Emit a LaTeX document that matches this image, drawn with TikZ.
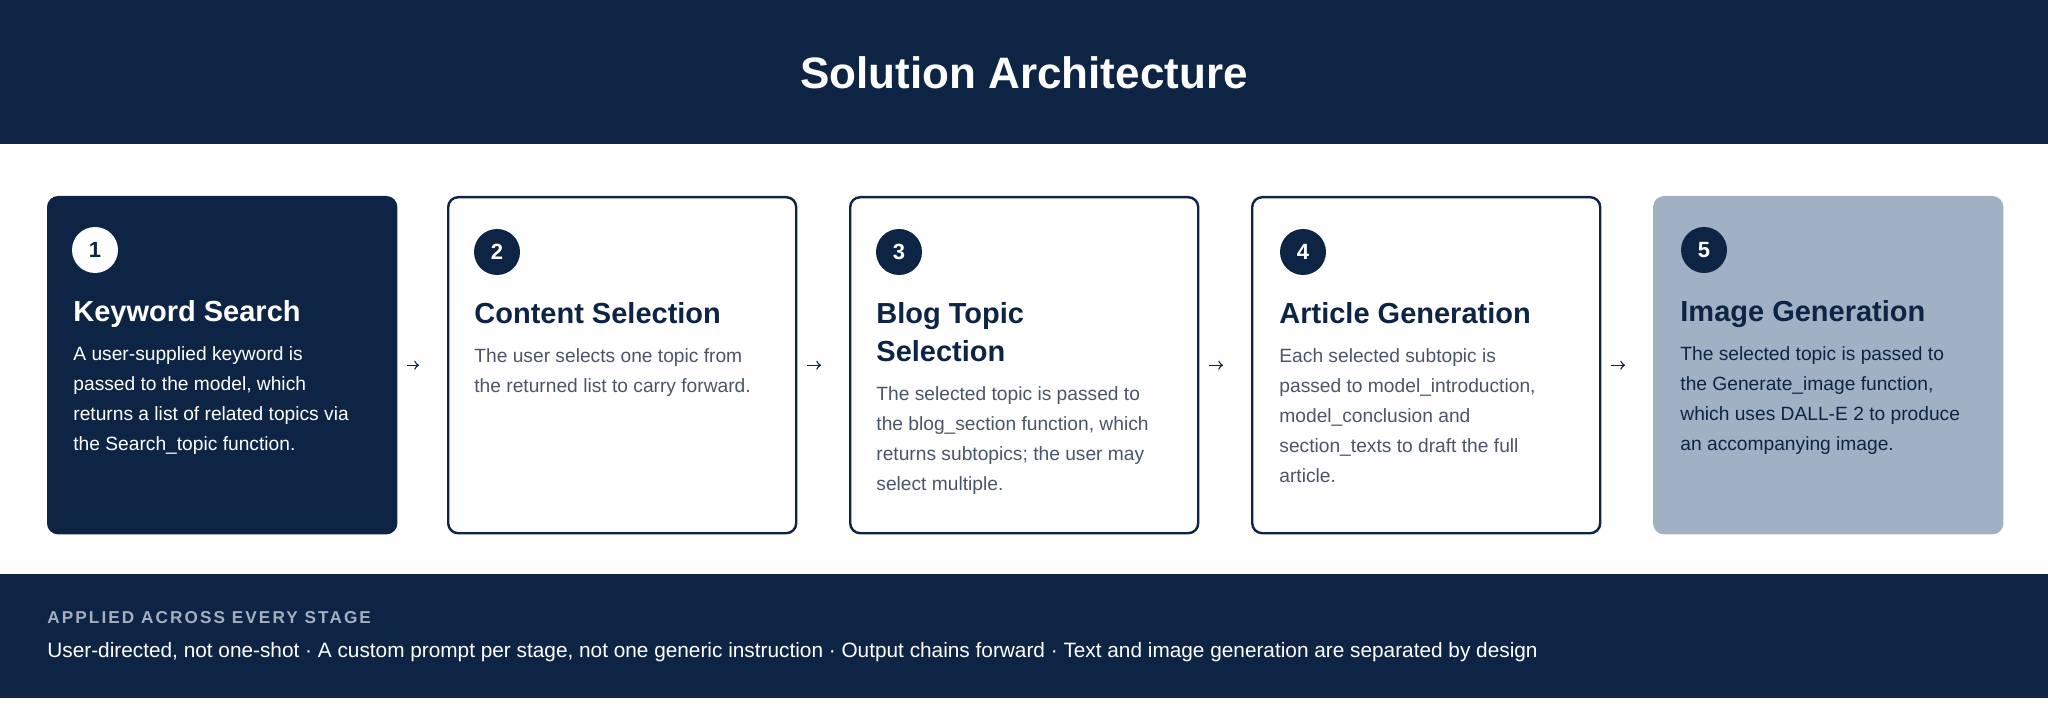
\documentclass[tikz,border=0pt]{standalone}
\usepackage{fontspec}
\setmainfont{Liberation Sans}
\usetikzlibrary{positioning}
\definecolor{navy}{HTML}{0E2445}
\definecolor{slate}{HTML}{9FB1C3}
\definecolor{bodygray}{HTML}{4A5568}
\definecolor{capgray}{HTML}{A3AFBF}
\begin{document}
\begin{tikzpicture}[x=0.5pt,y=-0.5pt,
    stage/.style={draw=navy,line width=1.2pt,rounded corners=5pt,fill=white,
      minimum width=174pt,minimum height=168pt,anchor=north west,inner sep=0pt},
    badge/.style={circle,fill=navy,text=white,minimum size=23pt,inner sep=0pt,
      font=\bfseries\fontsize{11}{11}\selectfont},
    title/.style={anchor=north west,inner sep=0pt,align=left,text=navy,
      font=\bfseries\fontsize{14.5}{19}\selectfont},
    body/.style={anchor=north west,inner sep=0pt,align=left,text=bodygray,
      font=\fontsize{9.6}{15}\selectfont},
    flow/.style={->,navy,line width=0.7pt,shorten >=14pt,shorten <=5pt}]

  % Frame and bands
  \useasboundingbox (0,0) rectangle (2048,716);
  \fill[navy] (0,0) rectangle (2048,144);
  \fill[navy] (0,574) rectangle (2048,698);
  \node[text=white,font=\bfseries\fontsize{22}{22}\selectfont] (head) at (1024,73) {Solution Architecture};

  % Stages
  \node[stage,fill=navy,draw=navy] (s1) at (47,196) {};
  \node[stage] (s2) at (447,196) {};
  \node[stage] (s3) at (849,196) {};
  \node[stage] (s4) at (1251,196) {};
  \node[stage,fill=slate,draw=slate] (s5) at (1653,196) {};

  \node[badge,fill=white,text=navy] (n1) at (95,250) {1};
  \node[badge] (n2) at (497,252) {2};
  \node[badge] (n3) at (899,252) {3};
  \node[badge] (n4) at (1303,252) {4};
  \node[badge] (n5) at (1704,250) {5};

  \node[title,text=white] (t1) at (73,300) {Keyword Search};
  \node[title] (t2) at (474,302) {Content Selection};
  \node[title] (t3) at (876,302) {Blog Topic\\Selection};
  \node[title] (t4) at (1279,302) {Article Generation};
  \node[title] (t5) at (1680,300) {Image Generation};

  \node[body,text=white] (d1) at (73,346) {A user-supplied keyword is\\passed to the model, which\\returns a list of related topics via\\the Search\_topic function.};
  \node[body] (d2) at (474,348) {The user selects one topic from\\the returned list to carry forward.};
  \node[body] (d3) at (876,386) {The selected topic is passed to\\the blog\_section function, which\\returns subtopics; the user may\\select multiple.};
  \node[body] (d4) at (1279,348) {Each selected subtopic is\\passed to model\_introduction,\\model\_conclusion and\\section\_texts to draft the full\\article.};
  \node[body,text=navy] (d5) at (1680,346) {The selected topic is passed to\\the Generate\_image function,\\which uses DALL-E 2 to produce\\an accompanying image.};

  % Flow
  \draw[flow] (s1) -- (s2);
  \draw[flow] (s2) -- (s3);
  \draw[flow] (s3) -- (s4);
  \draw[flow] (s4) -- (s5);

  % Footer
  \node[anchor=west,inner sep=0pt,text=capgray,font=\bfseries\fontsize{8.6}{9}\selectfont\addfontfeatures{LetterSpace=12}] (cap) at (47,618) {APPLIED ACROSS EVERY STAGE};
  \node[anchor=west,inner sep=0pt,text=white,font=\fontsize{10.4}{12}\selectfont] (note) at (47,652) {User-directed, not one-shot · A custom prompt per stage, not one generic instruction · Output chains forward · Text and image generation are separated by design};
\end{tikzpicture}
\end{document}
